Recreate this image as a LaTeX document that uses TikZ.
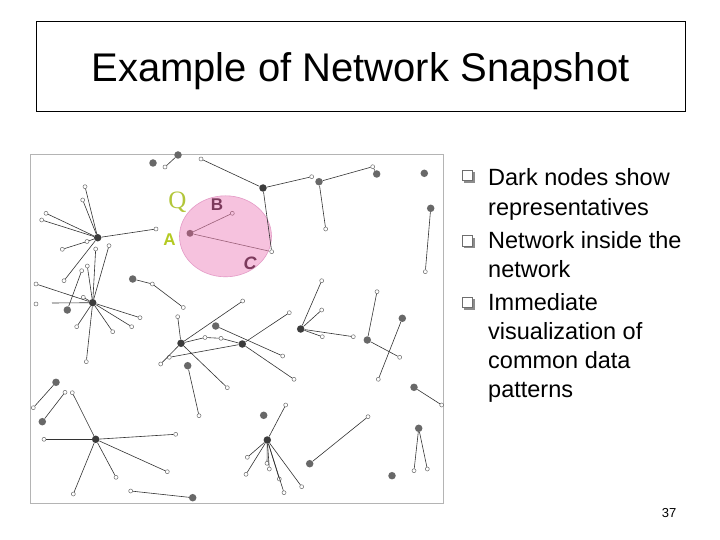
\documentclass[tikz,border=0pt]{standalone}
\usepackage{fontspec}
\setmainfont{Liberation Sans}
\newfontfamily\serifq{Liberation Serif}
\usetikzlibrary{shapes.geometric}
\definecolor{dkgray}{HTML}{686868}
\definecolor{hubgray}{HTML}{3C3C3C}
\definecolor{hlgray}{HTML}{6E6E6E}
\definecolor{lngray}{HTML}{333333}
\definecolor{framegray}{HTML}{B4B4B4}
\definecolor{pinkfill}{HTML}{F6C2DE}
\definecolor{pinkedge}{HTML}{E49AC6}
\definecolor{qgreen}{HTML}{B2C63A}
\definecolor{agreen}{HTML}{B4CA22}
\definecolor{maroon}{HTML}{7C3A5C}
\definecolor{anode}{HTML}{9A6078}
\definecolor{bulgray}{HTML}{8C8C8C}
\begin{document}
\begin{tikzpicture}[x=1pt,y=-1pt,
  dk/.style={circle,fill=dkgray,inner sep=0pt,minimum size=7.5pt},
  hb/.style={circle,fill=hubgray,inner sep=0pt,minimum size=7.5pt},
  hl/.style={circle,draw=hlgray,fill=white,line width=0.5pt,inner sep=0pt,minimum size=4pt},
  ln/.style={draw=lngray,line width=0.6pt},
  pl/.style={draw=anode,line width=0.6pt},
  txt/.style={anchor=base west,inner sep=0pt,font=\fontsize{23.5}{28}\selectfont},
  bulbox/.style={draw=hlgray,fill=white,line width=0.6pt,inner sep=0pt,minimum size=10.5pt},
  bulshadow/.style={fill=bulgray,inner sep=0pt,minimum size=10.5pt}]
\useasboundingbox (0,0) rectangle (720,540);
\fill[white] (0,0) rectangle (720,540);

% title
\node[draw=black,line width=0.9pt,minimum width=649pt,minimum height=90pt,inner sep=0pt] (tbox) at (360.5,66) {};
\node[anchor=base,inner sep=0pt,font=\fontsize{40}{42}\selectfont] (title) at (360.5,81.5) {Example of Network Snapshot};

% picture frame
\draw[framegray,line width=0.8pt] (30,154) rectangle (443,503);

% pink circle
\node[ellipse,draw=pinkedge,fill=pinkfill,line width=0.6pt,minimum width=92pt,minimum height=81pt,inner sep=0pt] (pinkq) at (225.5,236.3) {};
\node[circle,fill=anode,inner sep=0pt,minimum size=7pt] (A) at (190,233.3) {};
\node[circle,draw=anode,fill=pinkfill,line width=0.5pt,inner sep=0pt,minimum size=4pt] (B) at (232.3,213.3) {};
\node[hl] (C) at (271.7,251.7) {};
\draw[pl] (A) -- (B);
\draw[pl] (A) -- (C);
\node[text=qgreen,font=\serifq\fontsize{25}{25}\selectfont,inner sep=0pt] (lq) at (177.5,202.5) {Q};
\node[text=agreen,font=\bfseries\fontsize{17}{17}\selectfont,inner sep=0pt] (la) at (169.5,240) {A};
\node[text=maroon,font=\bfseries\fontsize{17}{17}\selectfont,inner sep=0pt] (lb) at (217,205) {B};
\node[text=maroon,font=\bfseries\itshape\fontsize{18}{18}\selectfont,inner sep=0pt] (lc) at (250,263.3) {C};

% top area
\node[dk] (d1) at (153,163) {};
\node[dk] (d2) at (178,155) {};
\node[hl] (h1) at (165,167) {};
\node[hl] (h2) at (201,159) {};
\node[hb] (d3) at (263,188) {};
\node[hl] (h3) at (311.7,176.7) {};
\node[dk] (d4) at (319,181.7) {};
\node[hl] (h4) at (372.7,166.7) {};
\node[dk] (d5) at (376.7,174) {};
\node[hl] (h5) at (325.7,229) {};
\node[dk] (d6) at (424.3,173.3) {};
\node[dk] (d7) at (430.7,208.3) {};
\node[hl] (h6) at (425.3,271.7) {};
\draw[ln] (d2) -- (h1);
\draw[ln] (h2) -- (d3);
\draw[ln] (d3) -- (h3);
\draw[ln] (d3) -- (C);
\draw[ln] (d4) -- (h4);
\draw[ln] (h4) -- (d5);
\draw[ln] (d4) -- (h5);
\draw[ln] (d7) -- (h6);

% cluster hub1
\node[hb] (hub1) at (97.7,237.7) {};
\node[hl] (a1) at (85,186.7) {};
\node[hl] (a2) at (82.7,200) {};
\node[hl] (a3) at (46,213.3) {};
\node[hl] (a4) at (41.7,220) {};
\node[hl] (a5) at (156,229) {};
\node[hl] (a6) at (87,241.5) {};
\node[hl] (a7) at (62.3,249.3) {};
\node[hl] (a8) at (64,280.7) {};
\foreach \n in {a1,a2,a3,a4,a5,a6,a8} \draw[ln] (hub1) -- (\n);
\draw[ln] (a6) -- (a7);

% cluster hub2
\node[hb] (hub2) at (92.7,302.7) {};
\node[hl] (b1) at (95.7,249) {};
\node[hl] (b2) at (109,245.7) {};
\node[hl] (b3) at (87.3,266) {};
\node[hl] (b4) at (36,284) {};
\node[hl] (b5) at (36,304) {};
\node[hl] (b6) at (83.3,297.3) {};
\node[hl] (b7) at (140,317.7) {};
\node[hl] (b8) at (131.7,326.7) {};
\node[hl] (b9) at (112.7,331.7) {};
\node[hl] (b10) at (76.7,326.7) {};
\node[hl] (b11) at (86.3,361.7) {};
\foreach \n in {b1,b2,b3,b4,b6,b7,b8,b9,b10,b11} \draw[ln] (hub2) -- (\n);
\coordinate (b5e) at (52,303);
\draw[ln] (hub2) -- (b5e);
\node[dk] (d8) at (67.3,310) {};
\node[hl] (b12) at (81.7,270.7) {};
\draw[ln] (d8) -- (b12);

\node[dk] (d9) at (132.7,279) {};
\node[hl] (c1) at (152.3,284) {};
\node[hl] (c2) at (183.3,307.5) {};
\draw[ln] (d9) -- (c1);
\draw[ln] (c1) -- (c2);

% cluster hub3 / hub4
\node[hb] (hub3) at (181,343.3) {};
\node[hl] (e1) at (177.7,316.7) {};
\node[hl] (e2) at (242.7,301) {};
\node[hl] (e3) at (205,337.5) {};
\node[hl] (e4) at (221,338.3) {};
\node[hl] (e5) at (169.3,357.3) {};
\node[hl] (e6) at (160.7,364) {};
\node[hl] (e7) at (227.3,387.7) {};
\node[dk] (d10) at (215.7,326) {};
\node[hl] (e8) at (282.7,356) {};
\node[hb] (hub4) at (242.3,344) {};
\node[hl] (f1) at (289.3,312.7) {};
\node[hl] (f2) at (294,379.3) {};
\node[dk] (d11) at (187.7,365.7) {};
\node[hl] (e9) at (199,415.7) {};
\foreach \n in {e1,e2,e3,e6,e7} \draw[ln] (hub3) -- (\n);
\draw[ln] (e3) -- (e4);
\draw[ln] (e4) -- (hub4);
\draw[ln] (e5) -- (hub4);
\draw[ln] (hub4) -- (f1);
\draw[ln] (hub4) -- (f2);
\draw[ln] (d10) -- (e8);
\draw[ln] (d11) -- (e9);

% hub5
\node[hb] (hub5) at (300.7,329) {};
\node[hl] (g1) at (321.7,280.7) {};
\node[hl] (g2) at (321.7,310) {};
\node[hl] (g3) at (322.3,336.7) {};
\node[hl] (g4) at (353.3,336.7) {};
\foreach \n in {g1,g2,g3,g4} \draw[ln] (hub5) -- (\n);
\node[dk] (d12) at (367.3,340) {};
\node[hl] (g5) at (377,291.7) {};
\node[hl] (g6) at (399.7,357.3) {};
\draw[ln] (d12) -- (g5);
\draw[ln] (d12) -- (g6);
\node[dk] (d13) at (402.3,318.3) {};
\node[hl] (g7) at (378.3,379.3) {};
\draw[ln] (d13) -- (g7);
\node[dk] (d14) at (414,387.3) {};
\node[hl] (g8) at (441.7,405) {};
\draw[ln] (d14) -- (g8);

% lower left
\node[dk] (d15) at (56,382.3) {};
\node[hl] (k1) at (33.3,407.7) {};
\draw[ln] (d15) -- (k1);
\node[hl] (k2) at (65,392.3) {};
\node[dk] (d16) at (42.3,421.7) {};
\draw[ln] (k2) -- (d16);
\node[hb] (hub6) at (95.7,439.3) {};
\node[hl] (k3) at (72.3,392.7) {};
\node[hl] (k4) at (44,439.3) {};
\node[hl] (k5) at (175.7,434.3) {};
\node[hl] (k6) at (167.3,471.7) {};
\node[hl] (k7) at (116,477.3) {};
\node[hl] (k8) at (73.3,494) {};
\foreach \n in {k3,k4,k5,k6,k7,k8} \draw[ln] (hub6) -- (\n);
\node[hl] (k9) at (130.7,491) {};
\node[dk] (d17) at (192.7,497.7) {};
\draw[ln] (k9) -- (d17);

% lower right
\node[dk] (d18) at (263.7,415.3) {};
\node[hb] (hub7) at (267.3,440) {};
\node[hl] (m1) at (285.7,405) {};
\node[hl] (m2) at (247.3,457.3) {};
\node[hl] (m3) at (246,474.3) {};
\node[hl] (m4) at (267,463.3) {};
\node[hl] (m5) at (269.3,469) {};
\node[hl] (m6) at (279.3,479) {};
\node[hl] (m7) at (284,492.7) {};
\node[hl] (m8) at (301.7,486.7) {};
\foreach \n in {m1,m2,m3,m4,m5,m6,m7,m8} \draw[ln] (hub7) -- (\n);
\node[dk] (d19) at (309.7,463.7) {};
\node[hl] (m9) at (368,416.7) {};
\draw[ln] (d19) -- (m9);
\node[dk] (d20) at (418.7,428.3) {};
\node[hl] (m10) at (414,470.7) {};
\node[hl] (m11) at (427.3,469) {};
\draw[ln] (d20) -- (m10);
\draw[ln] (d20) -- (m11);
\node[dk] (d21) at (392,475.7) {};

% bullets
\node[bulshadow] (s1) at (469.5,177.5) {};
\node[bulbox] (q1) at (467.5,175.5) {};
\node[bulshadow] (s2) at (469.5,243) {};
\node[bulbox] (q2) at (467.5,241) {};
\node[bulshadow] (s3) at (469.5,304.5) {};
\node[bulbox] (q3) at (467.5,302.5) {};

\node[txt] (t1) at (488,186) {Dark nodes show};
\node[txt] (t2) at (488,215) {representatives};
\node[txt] (t3) at (488,248) {Network inside the};
\node[txt] (t4) at (488,277) {network};
\node[txt] (t5) at (488,310) {Immediate};
\node[txt] (t6) at (488,339) {visualization of};
\node[txt] (t7) at (488,368) {common data};
\node[txt] (t8) at (488,397) {patterns};

\node[anchor=base,inner sep=0pt,font=\fontsize{13}{13}\selectfont] (pg) at (669,517) {37};
\end{tikzpicture}
\end{document}
